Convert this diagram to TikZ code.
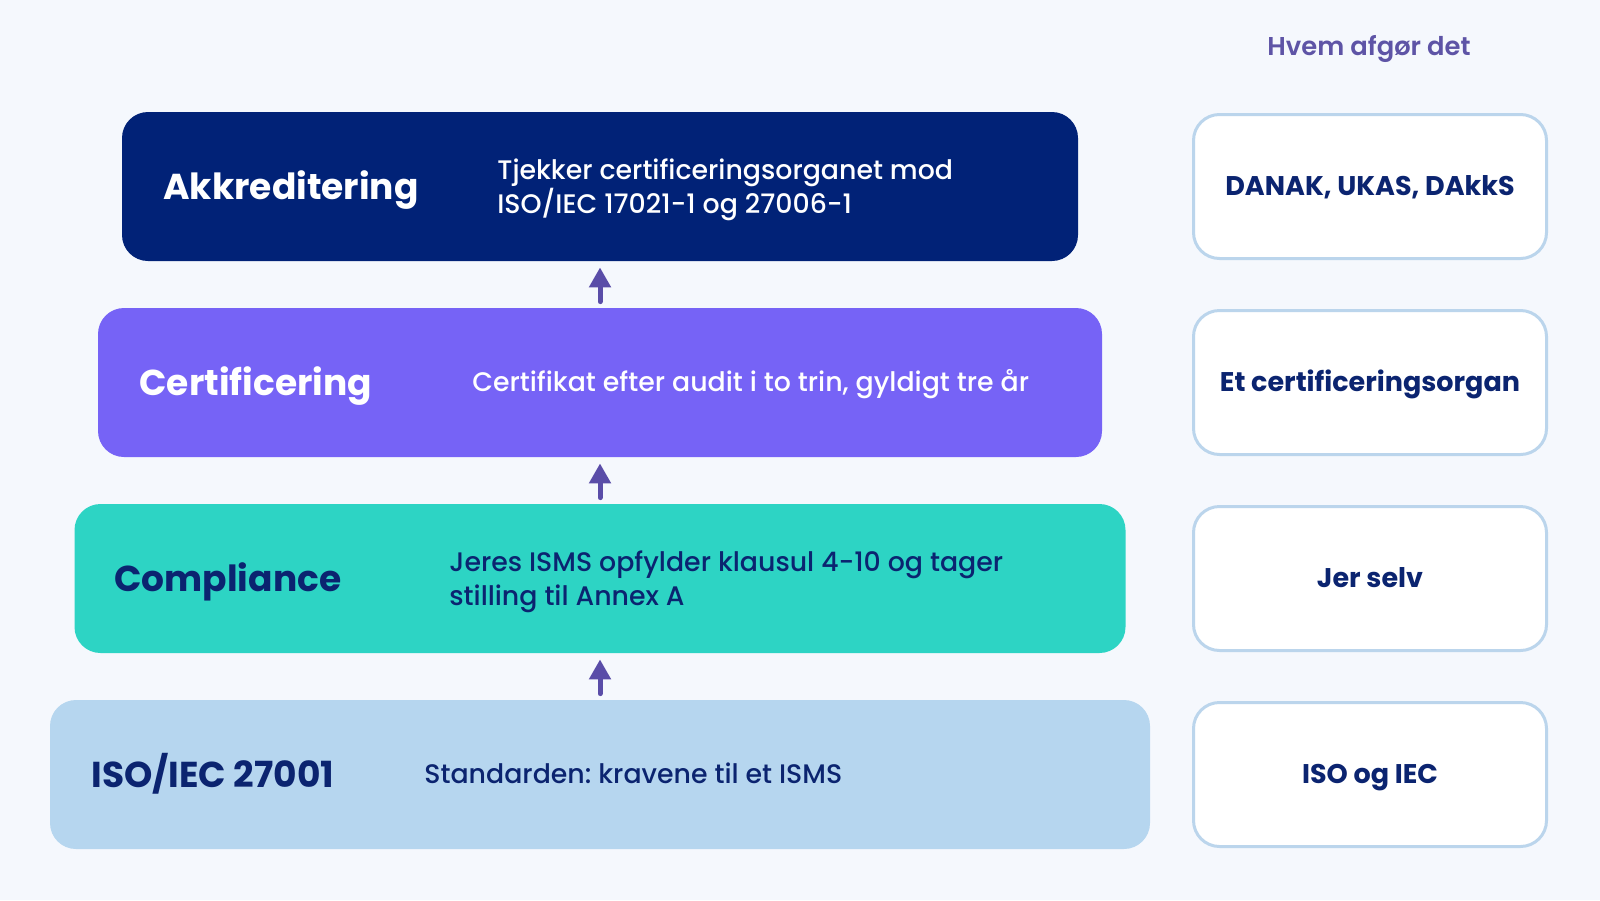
\documentclass[tikz,border=0pt]{standalone}
\usepackage{fontspec}
\setmainfont{Poppins}
\newfontfamily\semib{Poppins SemiBold}
\newfontfamily\medf{Poppins Medium}
\usetikzlibrary{arrows.meta}
\frenchspacing
\definecolor{bg}{HTML}{F5F8FD}
\definecolor{c1}{HTML}{012277}
\definecolor{c2}{HTML}{7663F6}
\definecolor{c3}{HTML}{2DD4C4}
\definecolor{c4}{HTML}{B6D6EF}
\definecolor{rb}{HTML}{BBD5EC}
\definecolor{arr}{HTML}{5A4DA8}
\definecolor{navy}{HTML}{0B2470}
\definecolor{hv}{HTML}{5E54A6}
\tikzset{
  layer/.style={rounded corners=13pt, minimum height=74.5pt, inner sep=0pt},
  who/.style={draw=rb, line width=1.5pt, fill=white, rounded corners=13pt, minimum width=176.5pt, minimum height=72pt, inner sep=0pt, text=navy, text height=9.45pt, text depth=0pt, font=\frenchspacing\bfseries\fontsize{13.5}{16}\selectfont},
  ttl/.style={anchor=west, inner sep=0pt, text height=12.6pt, text depth=0pt, font=\frenchspacing\bfseries\fontsize{18}{22}\selectfont},
  dsc/.style={anchor=west, inner sep=0pt, align=left, text height=9.4pt, text depth=0pt, font=\frenchspacing\medf\fontsize{13.4}{17.4}\selectfont},
  dsc2/.style={dsc, yshift=-9pt}
}
\tikzset{uparr/.style={draw=arr, line width=2.5pt, line cap=round, -{Triangle[width=10.5pt,length=10pt]}}}
\begin{document}
\begin{tikzpicture}[x=0.5pt,y=-0.5pt]
\path[fill=bg] (0,0) rectangle (1600,900);
\useasboundingbox (0,0) rectangle (1600,900);

\node[inner sep=0pt, text=hv, text height=9pt, text depth=0pt, font=\semib\fontsize{12.9}{15}\selectfont] (hd) at (1369,46) {Hvem afgør det};

\node[layer, fill=c1, minimum width=478pt] (b1) at (600,186.5) {};
\node[layer, fill=c2, minimum width=502pt] (b2) at (600,382.5) {};
\node[layer, fill=c3, minimum width=525.5pt] (b3) at (600,578.5) {};
\node[layer, fill=c4, minimum width=550pt] (b4) at (600,774.5) {};

\node[ttl, text=white] (t1) at (163,186.5) {Akkreditering};
\node[dsc2, text=white] (d1) at (497,186.5) {Tjekker certificeringsorganet mod\\ISO/IEC 17021-1 og 27006-1};
\node[ttl, text=white] (t2) at (139,382.5) {Certificering};
\node[dsc, text=white] (d2) at (472,382.5) {Certifikat efter audit i to trin, gyldigt tre år};
\node[ttl, text=navy] (t3) at (114,578.5) {Compliance};
\node[dsc2, text=navy] (d3) at (449,578.5) {Jeres ISMS opfylder klausul 4-10 og tager\\stilling til Annex A};
\node[ttl, text=navy] (t4) at (91,774.5) {ISO/IEC 27001};
\node[dsc, text=navy] (d4) at (424,774.5) {Standarden: kravene til et ISMS};

\node[who] (w1) at (1370,186.5) {DANAK, UKAS, DAkkS};
\node[who] (w2) at (1370,382.5) {Et certificeringsorgan};
\node[who] (w3) at (1370,578.5) {Jer selv};
\node[who] (w4) at (1370,774.5) {ISO og IEC};

\draw[uparr] ([yshift=3pt]b2.north) -- ([yshift=-3pt]b1.south);
\draw[uparr] ([yshift=3pt]b3.north) -- ([yshift=-3pt]b2.south);
\draw[uparr] ([yshift=3pt]b4.north) -- ([yshift=-3pt]b3.south);
\end{tikzpicture}
\end{document}
